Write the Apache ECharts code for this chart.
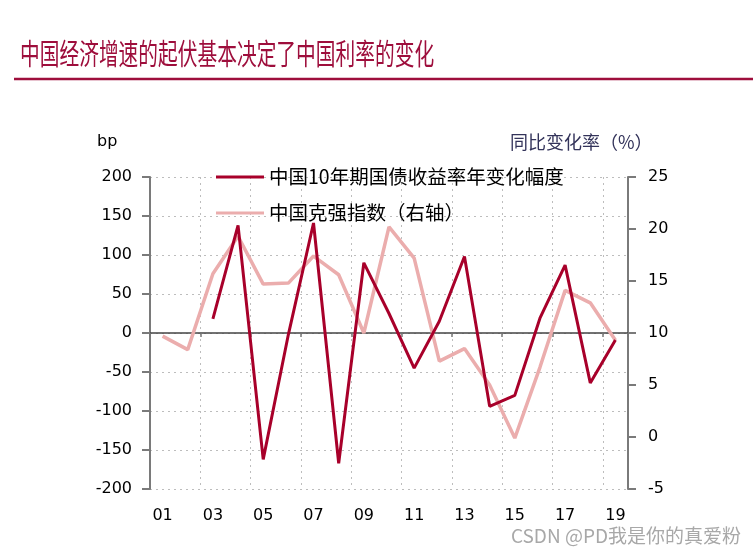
<!DOCTYPE html>
<html>
<head>
<meta charset="utf-8">
<script src="https://cdn.jsdelivr.net/npm/echarts@6/dist/echarts.min.js"></script>
<style>html,body{margin:0;padding:0;background:#fff}#c{width:753px;height:554px}</style>
</head>
<body>
<div id="c"></div>
<script>
const categories = ['01','02','03','04','05','06','07','08','09','10','11','12','13','14','15','16','17','18','19'];
const bondYieldChange = [null, null, 18, 138, -162, -2, 141, -167, 90, 25, -45, 15, 98, -94, -80, 19, 87, -64, -9];
const keqiangIndex = [9.7, 8.4, 15.7, 19.3, 14.7, 14.8, 17.4, 15.6, 10.0, 20.2, 17.2, 7.3, 8.5, 5.0, -0.1, 6.7, 14.1, 12.9, 9.3];
const leftTicks = {min: -200, max: 200, interval: 50};
const rightTicks = {min: -5, max: 25, interval: 5};

const numFont = 'DejaVu Sans';
const cjkFont = 'Noto Sans CJK SC';
const titleColor = '#9E0E3C';
const redColor = '#A8002A';
const pinkColor = '#EBADAD';
const gridColor = '#BDBDBD';

const chart = echarts.init(document.getElementById('c'));
chart.setOption({
  animation: false,
  backgroundColor: '#fff',
  grid: {left: 150, right: 125, top: 177, bottom: 65, containLabel: false},
  graphic: [
    {type: 'text', left: 20, top: 39, scaleX: 0.68, style: {text: '中国经济增速的起伏基本决定了中国利率的变化', font: '29px "Noto Sans CJK SC"', fill: titleColor}},
    {type: 'line', shape: {x1: 14, y1: 79, x2: 753, y2: 79}, style: {stroke: titleColor, lineWidth: 2.5}},
    {type: 'text', left: 97, top: 134, style: {text: 'bp', font: '16px "DejaVu Sans"', fill: '#000'}},
    {type: 'text', left: 510, top: 133, style: {text: '同比变化率（%）', font: '18px "Noto Sans CJK SC"', fill: '#33335A'}},
    {type: 'text', right: 12, top: 526, style: {text: 'CSDN @PD我是你的真爱粉', font: '19px "Noto Sans CJK SC"', fill: '#A8A8A8'}}
  ],
  legend: {
    orient: 'vertical', left: 211, top: 162,
    icon: 'path://M0,0L48,0L48,3L0,3Z',
    itemWidth: 48, itemHeight: 3, itemGap: 16,
    textStyle: {fontFamily: cjkFont, fontSize: 19.5, color: '#000', lineHeight: 20},
    data: ['中国10年期国债收益率年变化幅度', '中国克强指数（右轴）']
  },
  xAxis: [
    {
      type: 'category', data: categories, boundaryGap: true, position: 'bottom',
      axisLine: {show: false, onZero: false},
      axisTick: {show: false},
      axisLabel: {interval: 1, margin: 19, fontFamily: numFont, fontSize: 16, color: '#000'},
      splitLine: {show: true, interval: 1, lineStyle: {color: gridColor, type: [2, 4], width: 1}}
    },
    {
      type: 'category', data: categories, boundaryGap: true, position: 'bottom',
      axisLine: {show: true, onZero: true, lineStyle: {color: '#444', width: 1.5}},
      axisTick: {show: true, interval: 1, length: 4, lineStyle: {color: '#777', width: 1.5}},
      axisLabel: {show: false},
      splitLine: {show: false}
    }
  ],
  yAxis: [
    {
      type: 'value', min: leftTicks.min, max: leftTicks.max, interval: leftTicks.interval, position: 'left',
      axisLine: {show: true, lineStyle: {color: '#7A7A7A', width: 2}},
      axisTick: {show: true, length: 8, lineStyle: {color: '#7A7A7A', width: 2}},
      axisLabel: {margin: 18, fontFamily: numFont, fontSize: 16, color: '#000'},
      splitLine: {show: true, lineStyle: {color: gridColor, type: [2, 4], width: 1}}
    },
    {
      type: 'value', min: rightTicks.min, max: rightTicks.max, interval: rightTicks.interval, position: 'right',
      axisLine: {show: true, lineStyle: {color: '#7A7A7A', width: 2}},
      axisTick: {show: true, length: 8, lineStyle: {color: '#7A7A7A', width: 2}},
      axisLabel: {margin: 20, fontFamily: numFont, fontSize: 16, color: '#000'},
      splitLine: {show: false}
    }
  ],
  series: [
    {
      name: '中国克强指数（右轴）', type: 'line', xAxisIndex: 0, yAxisIndex: 1,
      data: keqiangIndex, symbol: 'none', z: 2,
      lineStyle: {color: pinkColor, width: 3.5}, itemStyle: {color: pinkColor}
    },
    {
      name: '中国10年期国债收益率年变化幅度', type: 'line', xAxisIndex: 0, yAxisIndex: 0,
      data: bondYieldChange, symbol: 'none', z: 3,
      lineStyle: {color: redColor, width: 3}, itemStyle: {color: redColor}
    }
  ]
});
</script>
</body>
</html>
